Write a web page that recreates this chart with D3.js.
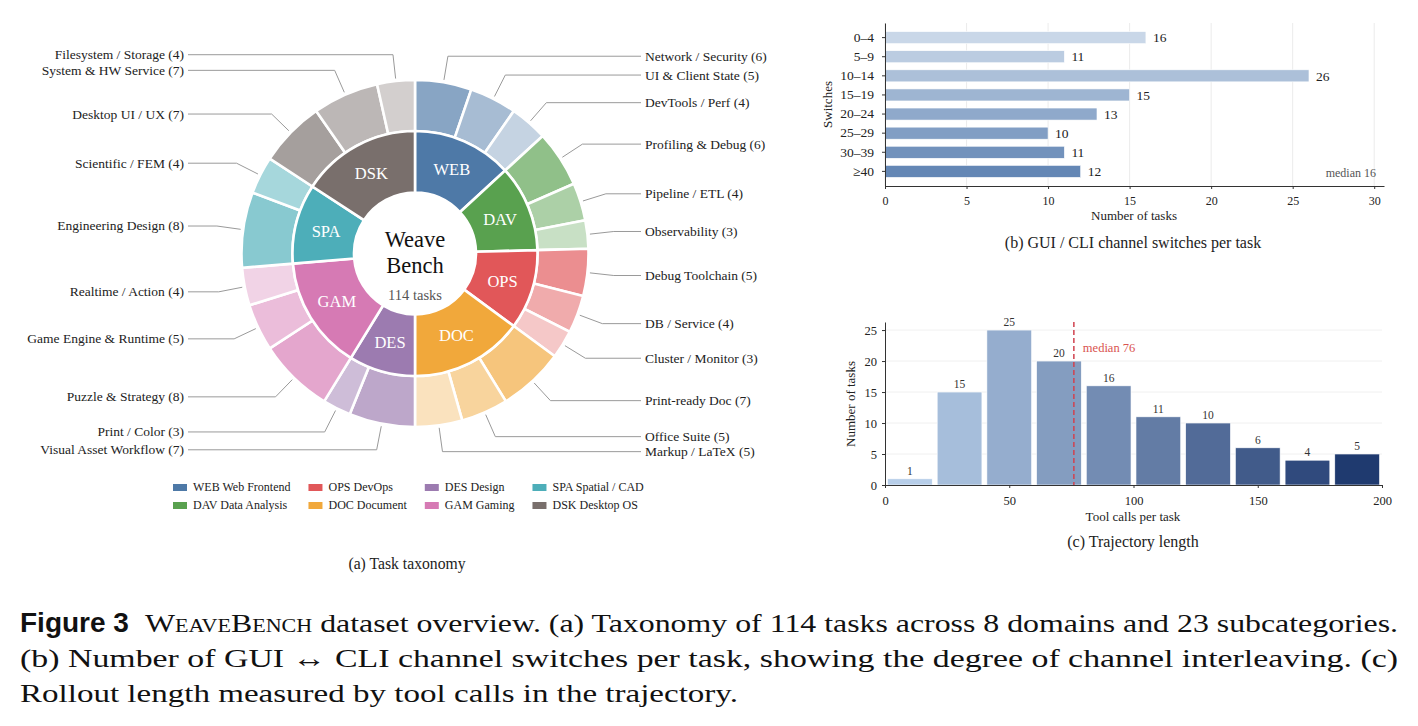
<!DOCTYPE html>
<html><head><meta charset="utf-8">
<script src="https://cdn.jsdelivr.net/npm/d3@7"></script>
<style>
body{margin:0;background:#fff}
svg{display:block}
text{font-family:"Liberation Serif","Times New Roman",serif}
</style>
</head><body>
<svg id="fig" width="1418" height="726"></svg>
<script>
// ---------- DATA ----------
const domainCodes = ["WEB","DAV","OPS","DOC","DES","GAM","SPA","DSK"];
const domainNames = ["Web Frontend","Data Analysis","DevOps","Document","Design","Gaming","Spatial / CAD","Desktop OS"];
const subLabels = ["Network / Security","UI & Client State","DevTools / Perf",
  "Profiling & Debug","Pipeline / ETL","Observability",
  "Debug Toolchain","DB / Service","Cluster / Monitor",
  "Print-ready Doc","Office Suite","Markup / LaTeX",
  "Visual Asset Workflow","Print / Color",
  "Puzzle & Strategy","Game Engine & Runtime","Realtime / Action",
  "Engineering Design","Scientific / FEM",
  "Desktop UI / UX","System & HW Service","Filesystem / Storage"];
const subCounts = [6,5,4, 6,4,3, 5,4,3, 7,5,5, 7,3, 8,5,4, 8,4, 7,7,4];
const subDomain = [0,0,0, 1,1,1, 2,2,2, 3,3,3, 4,4, 5,5,5, 6,6, 7,7,7];
const totalTasks = 114;

const switchBins = ["0–4","5–9","10–14","15–19","20–24","25–29","30–39","≥40"];
const switchCounts = [16,11,26,15,13,10,11,12];
const switchMedian = 16;
const switchTicks = [0,5,10,15,20,25,30];

const callBinStarts = [0,20,40,60,80,100,120,140,160,180];
const callBinWidth = 20;
const callCounts = [1,15,25,20,16,11,10,6,4,5];
const callMedian = 76;
const callXTicks = [0,50,100,150,200];
const callYTicks = [0,5,10,15,20,25];

// ---------- STYLE ----------
const domainColors = ["#4e79a7","#59a14f","#e15759","#f1a83b","#9c7bb0","#d67ab4","#4daeb9","#796f6c"];
const shadeT = [0.33,0.5,0.67];
const svg = d3.select("#fig");
svg.append("rect").attr("width",1418).attr("height",726).attr("fill","#fff");

// ---------- (a) DONUT ----------
const cx = 415, cy = 253.5;
const rIn0 = 61, rIn1 = 122.5, rOut1 = 173.5;
const gA = svg.append("g").attr("transform",`translate(${cx},${cy})`);

const domainTotals = domainCodes.map((d,i)=>d3.sum(subCounts.filter((c,j)=>subDomain[j]===i)));
const pie = d3.pie().sort(null).value(d=>d);
const innerArcs = pie(domainTotals);
const outerArcs = pie(subCounts);
const arcIn = d3.arc().innerRadius(rIn0).outerRadius(rIn1);
const arcOut = d3.arc().innerRadius(rIn1).outerRadius(rOut1);

const withinIdx = subCounts.map((c,j)=>subDomain.slice(0,j).filter(k=>k===subDomain[j]).length);
gA.selectAll("path.out").data(outerArcs).join("path").attr("class","out")
  .attr("d",arcOut)
  .attr("fill",(d,j)=>d3.interpolateRgb(domainColors[subDomain[j]],"#ffffff")(shadeT[withinIdx[j]]))
  .attr("stroke","#fff").attr("stroke-width",2.6);
gA.selectAll("path.in").data(innerArcs).join("path").attr("class","in")
  .attr("d",arcIn).attr("fill",(d,i)=>domainColors[i])
  .attr("stroke","#fff").attr("stroke-width",2.6);
gA.selectAll("text.dom").data(innerArcs).join("text").attr("class","dom")
  .attr("transform",d=>{const a=(d.startAngle+d.endAngle)/2, r=(rIn0+rIn1)/2; return `translate(${r*Math.sin(a)},${-r*Math.cos(a)})`;})
  .attr("text-anchor","middle").attr("dy","0.35em")
  .attr("fill","#fff").attr("font-size",16.5)
  .text((d,i)=>domainCodes[i]);

gA.append("text").attr("text-anchor","middle").attr("y",-7).attr("font-size",22.5).attr("fill","#111").text("Weave");
gA.append("text").attr("text-anchor","middle").attr("y",19).attr("font-size",22.5).attr("fill","#111").text("Bench");
gA.append("text").attr("text-anchor","middle").attr("y",46).attr("font-size",14.5).attr("fill","#555").text(`${totalTasks} tasks`);

// leader labels
const rStart = 176, rElbow = 200;
const lab = outerArcs.map((d,j)=>{
  const a=(d.startAngle+d.endAngle)/2;
  return {j,a,side:Math.sin(a)>=0?1:-1,y:-rElbow*Math.cos(a)};
});
[1,-1].forEach(s=>{
  const arr = lab.filter(l=>l.side===s).sort((p,q)=>p.y-q.y);
  for(let k=1;k<arr.length;k++){ if(arr[k].y-arr[k-1].y<15) arr[k].y=arr[k-1].y+15; }
});
const xRightLine = 641-cx, xLeftLine = 188-cx;
lab.forEach(l=>{
  const sx=rStart*Math.sin(l.a), sy=-rStart*Math.cos(l.a);
  let r = Math.abs(Math.cos(l.a))>1e-3 ? -l.y/Math.cos(l.a) : rElbow;
  r = Math.max(182, Math.min(230, r));
  const ex=r*Math.sin(l.a), ey=-r*Math.cos(l.a);
  const tx = l.side>0?xRightLine:xLeftLine;
  gA.append("path").attr("d",`M${sx},${sy}L${ex},${ey}L${tx},${l.y}`)
    .attr("fill","none").attr("stroke","#9a9a9a").attr("stroke-width",1);
  gA.append("text").attr("x",l.side>0?tx+4:tx-4).attr("y",l.y).attr("dy","0.33em")
    .attr("text-anchor",l.side>0?"start":"end").attr("font-size",13.5).attr("fill","#222")
    .text(`${subLabels[l.j]} (${subCounts[l.j]})`);
});

// legend
const lg = svg.append("g");
let colX = 173;
for(let c=0;c<4;c++){
  let maxW=0;
  for(let r=0;r<2;r++){
    const i=c*2+r, y = 487.5+r*18;
    lg.append("rect").attr("x",colX).attr("y",y-3.5).attr("width",14).attr("height",7).attr("fill",domainColors[i]);
    const t = lg.append("text").attr("x",colX+20).attr("y",y).attr("dy","0.33em").attr("font-size",12).attr("fill","#222")
      .text(`${domainCodes[i]} ${domainNames[i]}`);
    maxW=Math.max(maxW,t.node().getComputedTextLength());
  }
  colX += 20+maxW+18;
}
svg.append("text").attr("x",407).attr("y",569).attr("text-anchor","middle").attr("font-size",15.7).attr("fill","#222").text("(a) Task taxonomy");

// ---------- (b) SWITCHES ----------
const gB = svg.append("g");
const bx = d3.scaleLinear().domain([0,30.6]).range([885,1384]);
const by = d3.scaleBand().domain(switchBins).range([23,186]).paddingInner(0.37).paddingOuter(0.45);
const bColor = i=>d3.interpolateRgb("#c9d7e8","#6487b5")(i/(switchBins.length-1));
gB.selectAll("line.grid").data(switchTicks).join("line").attr("class","grid")
  .attr("x1",d=>bx(d)).attr("x2",d=>bx(d)).attr("y1",23).attr("y2",186)
  .attr("stroke","#e6e6e6").attr("stroke-width",0.8);
gB.selectAll("rect.bar").data(switchCounts).join("rect").attr("class","bar")
  .attr("x",bx(0)).attr("y",(d,i)=>by(switchBins[i]))
  .attr("width",d=>bx(d)-bx(0)).attr("height",by.bandwidth())
  .attr("fill",(d,i)=>bColor(i)).attr("stroke","#fff").attr("stroke-width",0.6);
gB.selectAll("text.val").data(switchCounts).join("text").attr("class","val")
  .attr("x",d=>bx(d)+7).attr("y",(d,i)=>by(switchBins[i])+by.bandwidth()/2).attr("dy","0.35em")
  .attr("font-size",13.5).attr("fill","#222").text(d=>d);
const axB = gB.append("g").attr("transform","translate(0,186)")
  .call(d3.axisBottom(bx).tickValues(switchTicks).tickSize(3).tickSizeOuter(0).tickFormat(d3.format("d")));
const ayB = gB.append("g").attr("transform","translate(885,0)")
  .call(d3.axisLeft(by).tickSize(3).tickSizeOuter(0).tickPadding(8));
[axB,ayB].forEach(a=>{a.attr("font-family",null).attr("font-size",null);
  a.selectAll("path,line").attr("stroke","#333");
  a.selectAll("text").attr("fill","#222");});
axB.selectAll("text").attr("font-size",12).attr("dy","1.1em");
ayB.selectAll("text").attr("font-size",13.5);
gB.append("text").attr("x",1376).attr("y",173).attr("dy","0.35em").attr("text-anchor","end")
  .attr("font-size",12).attr("fill","#555").text(`median ${switchMedian}`);
gB.append("text").attr("x",1134).attr("y",220).attr("text-anchor","middle").attr("font-size",13).attr("fill","#222").text("Number of tasks");
gB.append("text").attr("transform","translate(832,104.5) rotate(-90)").attr("text-anchor","middle").attr("font-size",13).attr("fill","#222").text("Switches");
gB.append("text").attr("x",1133).attr("y",248).attr("text-anchor","middle").attr("font-size",16).attr("fill","#222").text("(b) GUI / CLI channel switches per task");

// ---------- (c) TRAJECTORY ----------
const gC = svg.append("g");
const hx = d3.scaleLinear().domain([0,200]).range([885,1382]);
const hy = d3.scaleLinear().domain([0,26.3]).range([485,322]);
const cColor = i=>d3.interpolateRgb("#b7cee9","#1f3a6f")(i/(callCounts.length-1));
gC.selectAll("line.grid").data(callYTicks.slice(1)).join("line").attr("class","grid")
  .attr("x1",885).attr("x2",1382).attr("y1",d=>hy(d)).attr("y2",d=>hy(d))
  .attr("stroke","#ececec").attr("stroke-width",0.8);
gC.selectAll("rect.bar").data(callCounts).join("rect").attr("class","bar")
  .attr("x",(d,i)=>hx(callBinStarts[i]+callBinWidth*0.05))
  .attr("width",(d,i)=>hx(callBinStarts[i]+callBinWidth*0.95)-hx(callBinStarts[i]+callBinWidth*0.05))
  .attr("y",d=>hy(d)).attr("height",d=>hy(0)-hy(d))
  .attr("fill",(d,i)=>cColor(i)).attr("stroke","#fff").attr("stroke-width",0.6);
gC.selectAll("text.val").data(callCounts).join("text").attr("class","val")
  .attr("x",(d,i)=>hx(callBinStarts[i]+callBinWidth/2)).attr("y",d=>hy(d)-4)
  .attr("text-anchor","middle").attr("font-size",11.5).attr("fill","#333").text(d=>d);
gC.append("line").attr("x1",hx(callMedian)).attr("x2",hx(callMedian)).attr("y1",322).attr("y2",485)
  .attr("stroke","#d0424f").attr("stroke-width",1.5).attr("stroke-dasharray","5,3");
gC.append("text").attr("x",hx(callMedian)+9).attr("y",352).attr("font-size",12.5).attr("fill","#d9534f").text(`median ${callMedian}`);
const axC = gC.append("g").attr("transform","translate(0,485)")
  .call(d3.axisBottom(hx).tickValues(callXTicks).tickSize(3).tickSizeOuter(0));
const ayC = gC.append("g").attr("transform","translate(885,0)")
  .call(d3.axisLeft(hy).tickValues(callYTicks).tickSize(3).tickSizeOuter(0).tickPadding(5));
[axC,ayC].forEach(a=>{a.attr("font-family",null).attr("font-size",null);
  a.selectAll("path,line").attr("stroke","#333");
  a.selectAll("text").attr("fill","#222").attr("font-size",12.5);});
axC.selectAll("text").attr("dy","1.1em");
gC.append("text").attr("x",1133).attr("y",521).attr("text-anchor","middle").attr("font-size",13).attr("fill","#222").text("Tool calls per task");
gC.append("text").attr("transform","translate(855,404) rotate(-90)").attr("text-anchor","middle").attr("font-size",13).attr("fill","#222").text("Number of tasks");
gC.append("text").attr("x",1133).attr("y",547).attr("text-anchor","middle").attr("font-size",16).attr("fill","#222").text("(c) Trajectory length");

// ---------- CAPTION ----------
svg.append("text").attr("x",20).attr("y",632)
  .style("font-family","'Liberation Sans',Arial,sans-serif").attr("font-weight","bold").attr("font-size",28).attr("fill","#111").text("Figure 3");
const l1 = svg.append("text").attr("x",145).attr("y",632).attr("font-size",26).attr("fill","#111")
  .attr("textLength",1253).attr("lengthAdjust","spacingAndGlyphs");
l1.append("tspan").style("font-variant","small-caps").text("WeaveBench");
l1.append("tspan").text(" dataset overview. (a) Taxonomy of 114 tasks across 8 domains and 23 subcategories.");
svg.append("text").attr("x",20).attr("y",667).attr("font-size",26).attr("fill","#111")
  .attr("textLength",1378).attr("lengthAdjust","spacingAndGlyphs")
  .text("(b) Number of GUI ↔ CLI channel switches per task, showing the degree of channel interleaving. (c)");
svg.append("text").attr("x",20).attr("y",702).attr("font-size",26).attr("fill","#111")
  .attr("textLength",718).attr("lengthAdjust","spacingAndGlyphs")
  .text("Rollout length measured by tool calls in the trajectory.");
</script>
</body></html>
